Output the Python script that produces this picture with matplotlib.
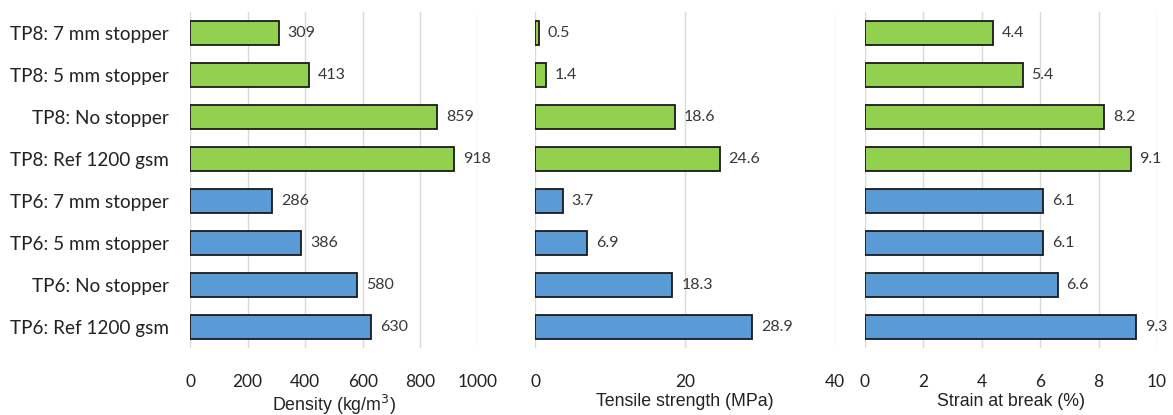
import matplotlib
matplotlib.use("Agg")
import matplotlib.pyplot as plt

categories = [
    "TP8: 7 mm stopper", "TP8: 5 mm stopper", "TP8: No stopper", "TP8: Ref 1200 gsm",
    "TP6: 7 mm stopper", "TP6: 5 mm stopper", "TP6: No stopper", "TP6: Ref 1200 gsm",
]
density = [309, 413, 859, 918, 286, 386, 580, 630]
tensile = [0.5, 1.4, 18.6, 24.6, 3.7, 6.9, 18.3, 28.9]
strain = [4.4, 5.4, 8.2, 9.1, 6.1, 6.1, 6.6, 9.3]
density_labels = ["309", "413", "859", "918", "286", "386", "580", "630"]
tensile_labels = ["0.5", "1.4", "18.6", "24.6", "3.7", "6.9", "18.3", "28.9"]
strain_labels = ["4.4", "5.4", "8.2", "9.1", "6.1", "6.1", "6.6", "9.3"]

green = "#92D050"
blue = "#5B9BD5"
colors = [green] * 4 + [blue] * 4

fig = plt.figure(figsize=(11.73, 4.15), dpi=100)

panels = [
    (density, density_labels, [0, 200, 400, 600, 800, 1000], (0, 1000),
     "Density (kg/m$^3$)", [0.162, 0.1614, 0.2455, 0.8096]),
    (tensile, tensile_labels, [0, 20, 40], (0, 40),
     "Tensile strength (MPa)", [0.4561, 0.1614, 0.2558, 0.8096]),
    (strain, strain_labels, [0, 2, 4, 6, 8, 10], (0, 10),
     "Strain at break (%)", [0.7374, 0.1614, 0.2489, 0.8096]),
]

label_font = "Lato"
axis_font = "Liberation Sans"

for i, (vals, labels, ticks, xlim, xlabel, rect) in enumerate(panels):
    ax = fig.add_axes(rect)
    y = list(range(len(categories)))
    ax.barh(y, vals, height=0.57, color=colors, edgecolor="#1a1a1a",
            linewidth=1.3, zorder=3)
    ax.set_xlim(*xlim)
    ax.set_ylim(7.5, -0.5)
    ax.set_xticks(ticks)
    ax.set_xticklabels([str(t) for t in ticks], fontsize=12.5,
                       family=label_font, color="#222222")
    ax.tick_params(axis="x", length=0, pad=19)
    ax.tick_params(axis="y", length=0, pad=15)
    ax.grid(axis="x", color="#d9d9d9", linewidth=1.0, zorder=0)
    for s in ax.spines.values():
        s.set_visible(False)
    ax.set_xlabel(xlabel, fontsize=12.8, family=axis_font, color="#222222",
                  labelpad=2)
    if i == 0:
        ax.set_yticks(y)
        ax.set_yticklabels(categories, fontsize=13.6, family=label_font,
                           color="#222222")
    else:
        ax.set_yticks([])
    span = xlim[1] - xlim[0]
    for yy, v, lab in zip(y, vals, labels):
        ax.text(v + span * 0.03, yy, lab, va="center", ha="left",
                fontsize=11.5, family=label_font, color="#383838")

fig.savefig("out.png", dpi=100, facecolor="white")
